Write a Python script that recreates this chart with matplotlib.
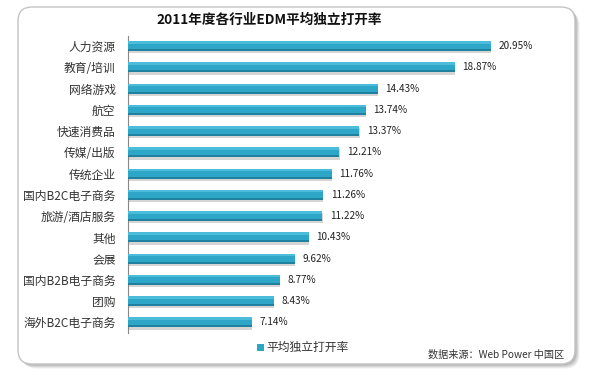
import matplotlib
matplotlib.use("Agg")
import matplotlib.pyplot as plt
from matplotlib.patches import FancyBboxPatch
import matplotlib.patheffects as pe

plt.rcParams['font.family'] = ['Noto Sans CJK SC', 'DejaVu Sans']

title = "2011年度各行业EDM平均独立打开率"
categories = ["人力资源", "教育/培训", "网络游戏", "航空", "快速消费品", "传媒/出版",
              "传统企业", "国内B2C电子商务", "旅游/酒店服务", "其他", "会展",
              "国内B2B电子商务", "团购", "海外B2C电子商务"]
values = [20.95, 18.87, 14.43, 13.74, 13.37, 12.21, 11.76, 11.26, 11.22, 10.43,
          9.62, 8.77, 8.43, 7.14]
legend_label = "平均独立打开率"
source = "数据来源：Web Power 中国区"

W, H = 600, 381
fig = plt.figure(figsize=(W / 100, H / 100), dpi=100)
fig.patch.set_facecolor('white')

# background axes in pixel coords for the rounded frame
bg = fig.add_axes([0, 0, 1, 1])
bg.set_xlim(0, W)
bg.set_ylim(H, 0)
bg.axis('off')
for i, a in enumerate([0.12, 0.16, 0.22, 0.30]):
    off = 4.5 - i
    bg.add_patch(FancyBboxPatch((18 + off, 7 + off), 557, 357,
                                boxstyle="round,pad=0,rounding_size=14",
                                fc='#8a8a8a', ec='none', alpha=a, zorder=1))
bg.add_patch(FancyBboxPatch((18, 7), 557, 357,
                            boxstyle="round,pad=0,rounding_size=14",
                            fc='white', ec='#c4c4c4', lw=1.0, zorder=2))

# main axes
x0, x1 = 128, 128 + 25 * 17.31
y_top, y_bot = 35.5, 333
ax = fig.add_axes([x0 / W, 1 - y_bot / H, (x1 - x0) / W, (y_bot - y_top) / H])
ax.set_facecolor('none')
ax.set_zorder(3)

ypos = list(range(len(categories)))
bh = 0.48
bars = ax.barh(ypos, values, height=bh, color='#2ea6c8', zorder=3)
for b in bars:
    b.set_path_effects([pe.SimplePatchShadow(offset=(0.4, -1.6), shadow_rgbFace='#888888', alpha=0.35),
                        pe.Normal()])
ax.barh([y - bh / 2 + 0.06 for y in ypos], values, height=0.12, color='#4cbcdb', zorder=4, lw=0)
ax.barh([y + bh / 2 - 0.05 for y in ypos], values, height=0.1, color='#1f819f', zorder=4, lw=0)

for y, v in zip(ypos, values):
    ax.text(v + 0.45, y, f"{v:.2f}%", va='center', ha='left', fontsize=7.2, color='#222222')

ax.set_xlim(0, 25)
ax.set_ylim(len(categories) - 0.5, -0.5)
ax.set_yticks(ypos)
ax.set_yticklabels(categories, fontsize=8.5, color='#333333')
ax.tick_params(axis='y', length=0, pad=9)
ax.set_xticks([])
for s in ['top', 'right', 'bottom']:
    ax.spines[s].set_visible(False)
ax.spines['left'].set_color('#888888')
ax.spines['left'].set_linewidth(0.8)

# title
bg.text(269, 20, title, ha='center', va='center', fontsize=9.8, fontweight='bold', color='#111111', zorder=5)

# legend
bg.add_patch(plt.Rectangle((257, 344), 7, 7, fc='#2ea6c8', ec='none', zorder=5))
bg.text(266, 347.5, legend_label, ha='left', va='center', fontsize=8.5, color='#333333', zorder=5)

# source
bg.text(564, 355, source, ha='right', va='center', fontsize=7.3, color='#333333', zorder=5)

fig.savefig("out.png", dpi=100, facecolor='white')
